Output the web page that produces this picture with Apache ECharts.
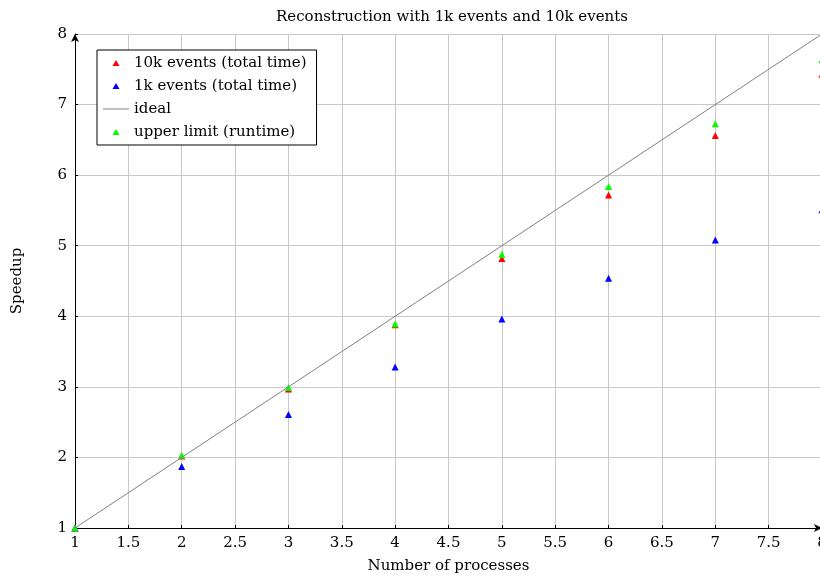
<!DOCTYPE html>
<html>
<head>
<meta charset="utf-8">
<script src="https://cdn.jsdelivr.net/npm/echarts@6/dist/echarts.min.js"></script>
<style>
  html, body { margin: 0; padding: 0; background: #fff; }
  #chart { width: 820px; height: 577px; }
</style>
</head>
<body>
<div id="chart"></div>
<script>
// processes on the x axis
const procs = [1, 2, 3, 4, 5, 6, 7, 8];
// speedup values
const speedup10k = [1, 2.02, 2.97, 3.88, 4.82, 5.72, 6.56, 7.43];
const speedup1k = [1, 1.87, 2.61, 3.28, 3.96, 4.54, 5.08, 5.51];
const upperLimit = [1, 2.03, 2.99, 3.89, 4.88, 5.84, 6.73, 7.64];
const idealLine = [1, 8];

const serif = "DejaVu Serif";

// legend icons: the extra moveTo points pin the box to 26x8 so nothing gets stretched
const triIcon = "path://M0,0M26,8M9.5,7L13,1L16.5,7Z";
const lineIcon = "path://M0,0M26,8M0,3.5L26,3.5L26,4.5L0,4.5Z";

const chart = echarts.init(document.getElementById("chart"));

function pairs(xs, ys) {
    return xs.map((x, i) => [x, ys[i]]);
}

const option = {
    animation: false,
    title: {
        text: "Reconstruction with 1k events and 10k events",
        left: 447,
        textAlign: "center",
        top: 5,
        textStyle: { fontFamily: serif, fontSize: 15, fontWeight: "normal", color: "#000" }
    },
    grid: { left: 75, right: -2, top: 34, bottom: 49, containLabel: false, outerBoundsMode: "none" },
    legend: {
        orient: "vertical",
        left: 97,
        top: 50,
        padding: [5, 10, 5, 6],
        itemWidth: 26,
        itemHeight: 8,
        itemGap: 7,
        backgroundColor: "#fff",
        borderColor: "#000",
        borderWidth: 1,
        borderRadius: 0,
        textStyle: { fontFamily: serif, fontSize: 15, color: "#000", lineHeight: 16 },
        data: [
            { name: "10k events (total time)", icon: triIcon },
            { name: "1k events (total time)", icon: triIcon },
            { name: "ideal", icon: lineIcon, itemStyle: { color: "#808080" } },
            { name: "upper limit (runtime)", icon: triIcon }
        ]
    },
    xAxis: {
        type: "value",
        min: 1,
        max: 8,
        interval: 0.5,
        name: "Number of processes",
        nameLocation: "middle",
        nameGap: 31,
        nameTextStyle: { fontFamily: serif, fontSize: 15, color: "#000" },
        axisLine: { lineStyle: { color: "#000", width: 1 }, symbol: ["none", "arrow"], symbolSize: [6, 8] },
        axisTick: { show: true, length: 3, inside: true, lineStyle: { color: "#000" } },
        axisLabel: { fontFamily: serif, fontSize: 15, color: "#000", margin: 8 },
        splitLine: { show: true, lineStyle: { color: "#c8c8c8", width: 1 } }
    },
    yAxis: {
        type: "value",
        min: 1,
        max: 8,
        interval: 1,
        name: "Speedup",
        nameLocation: "middle",
        nameGap: 50,
        nameTextStyle: { fontFamily: serif, fontSize: 15, color: "#000" },
        axisLine: { show: true, lineStyle: { color: "#000", width: 1 }, symbol: ["none", "arrow"], symbolSize: [6, 8] },
        axisTick: { show: true, length: 3, inside: true, lineStyle: { color: "#000" } },
        axisLabel: { fontFamily: serif, fontSize: 15, color: "#000", margin: 8 },
        splitLine: { show: true, lineStyle: { color: "#c8c8c8", width: 1 } }
    },
    series: [
        {
            name: "10k events (total time)",
            type: "scatter",
            symbol: "triangle",
            symbolSize: 7,
            itemStyle: { color: "#ff0000", opacity: 1 },
            data: pairs(procs, speedup10k)
        },
        {
            name: "1k events (total time)",
            type: "scatter",
            symbol: "triangle",
            symbolSize: 7,
            itemStyle: { color: "#0000ff", opacity: 1 },
            data: pairs(procs, speedup1k)
        },
        {
            name: "ideal",
            type: "line",
            symbol: "none",
            showSymbol: false,
            lineStyle: { color: "#808080", width: 1 },
            data: pairs(idealLine, idealLine)
        },
        {
            name: "upper limit (runtime)",
            type: "scatter",
            symbol: "triangle",
            symbolSize: 7,
            itemStyle: { color: "#00ff00", opacity: 1 },
            data: pairs(procs, upperLimit)
        }
    ]
};

chart.setOption(option);
</script>
</body>
</html>
